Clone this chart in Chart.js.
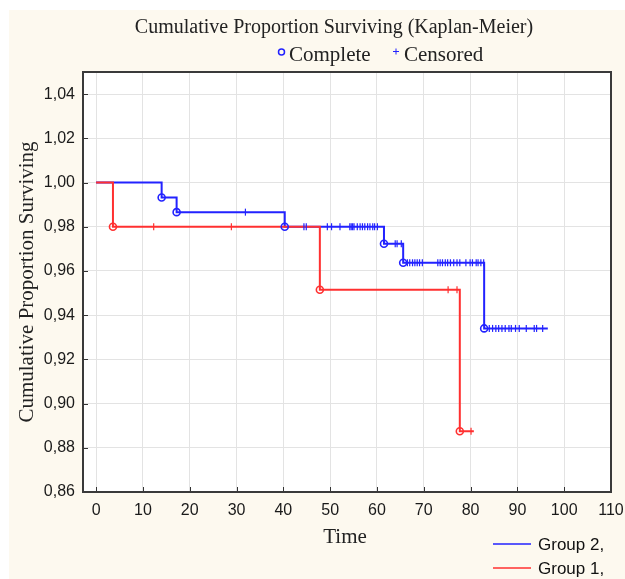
<!DOCTYPE html>
<html>
<head>
<meta charset="utf-8">
<script src="https://cdn.jsdelivr.net/npm/chart.js@4.4.1/dist/chart.umd.min.js"></script>
<style>
html, body { margin: 0; padding: 0; background: #fff; }
canvas { display: block; }
</style>
</head>
<body>
<canvas id="km" width="625" height="579"></canvas>
<script>
// tick labels
const xTicks = [0, 10, 20, 30, 40, 50, 60, 70, 80, 90, 100, 110];
const yTicks = [0.86, 0.88, 0.90, 0.92, 0.94, 0.96, 0.98, 1.00, 1.02, 1.04];

// Group 2 (blue): event times, survival after each event, censored times
const g2Times = [14.0, 17.2, 40.3, 61.5, 65.6, 82.9];
const g2Surv = [0.9932, 0.9866, 0.9800, 0.9723, 0.9637, 0.9340];
const g2LastTime = 96.5;
const g2Censored = [31.9, 44.4, 44.9, 49.4, 50.3, 52.1, 54.2, 54.5, 54.8, 55.1,
  55.8, 56.4, 56.9, 57.4, 58.0, 58.5, 59.1, 59.5, 60.1, 63.9, 64.3, 65.2,
  66.5, 67.0, 67.6, 68.1, 68.6, 69.1, 69.7, 73.0, 73.5, 74.0, 74.6, 75.1, 75.7,
  76.4, 77.1, 77.7, 79.0, 79.9, 80.4, 81.2, 81.6, 82.2, 82.8, 84.0, 84.7, 85.4,
  86.0, 86.7, 87.4, 88.2, 88.7, 89.6, 90.4, 91.9, 93.6, 94.1, 95.4];

// Group 1 (red)
const g1Times = [3.6, 47.8, 77.7];
const g1Surv = [0.9800, 0.9515, 0.8875];
const g1LastTime = 80.7;
const g1Censored = [12.3, 28.9, 75.2, 77.1, 80.1];

const BLUE = '#2222ff';
const RED = '#ff3030';

function survAt(times, surv, t) {
  let s = 1;
  for (let i = 0; i < times.length; i++) { if (times[i] <= t) s = surv[i]; }
  return s;
}
function stepPoints(times, surv, last) {
  const pts = [{ x: 0, y: 1 }];
  times.forEach((t, i) => pts.push({ x: t, y: surv[i] }));
  pts.push({ x: last, y: surv[surv.length - 1] });
  return pts;
}
function eventPoints(times, surv) {
  return times.map((t, i) => ({ x: t, y: surv[i] }));
}
function censPoints(times, surv, cens) {
  return cens.map(t => ({ x: t, y: survAt(times, surv, t) }));
}

const circleStyle = c => ({ showLine: false, pointStyle: 'circle', pointRadius: 3.5,
  pointBackgroundColor: 'rgba(0,0,0,0)', pointBorderColor: c, pointBorderWidth: 1.6 });
const censStyle = c => ({ showLine: false, pointStyle: 'line', pointRotation: 90, pointRadius: 3.5,
  pointBorderColor: c, pointBorderWidth: 1.2 });

const frame = {
  id: 'frame',
  beforeDraw(chart) {
    const { ctx, chartArea: a } = chart;
    ctx.save();
    ctx.fillStyle = '#ffffff';
    ctx.fillRect(0, 0, chart.width, chart.height);
    ctx.fillStyle = '#fdf9ef';
    ctx.fillRect(9, 10, chart.width - 9, chart.height - 10);
    ctx.fillStyle = '#ffffff';
    ctx.fillRect(a.left, a.top, a.right - a.left, a.bottom - a.top);
    ctx.restore();
  },
  afterDraw(chart) {
    const { ctx, chartArea: a, scales } = chart;
    ctx.save();
    // inner tick marks
    ctx.strokeStyle = '#333';
    ctx.lineWidth = 1;
    ctx.beginPath();
    xTicks.forEach(v => {
      const x = Math.round(scales.x.getPixelForValue(v)) + 0.5;
      ctx.moveTo(x, a.bottom); ctx.lineTo(x, a.bottom - 5);
    });
    yTicks.forEach(v => {
      const y = Math.round(scales.y.getPixelForValue(v)) + 0.5;
      ctx.moveTo(a.left, y); ctx.lineTo(a.left + 5, y);
    });
    ctx.stroke();
    // frame
    ctx.strokeStyle = '#3a3a3a';
    ctx.lineWidth = 2;
    ctx.strokeRect(a.left, a.top, a.right - a.left, a.bottom - a.top);

    ctx.fillStyle = '#222';
    ctx.textBaseline = 'middle';
    ctx.textAlign = 'center';
    ctx.font = '20px "Liberation Serif"';
    ctx.fillText('Cumulative Proportion Surviving (Kaplan-Meier)', 334, 28);
    ctx.font = '21px "Liberation Serif"';
    ctx.fillText('Time', 345, 537);

    // top legend
    ctx.textAlign = 'left';
    ctx.fillText('Complete', 289, 55);
    ctx.fillText('Censored', 404, 55);
    ctx.strokeStyle = BLUE;
    ctx.lineWidth = 1.5;
    ctx.beginPath();
    ctx.arc(281.5, 52, 3, 0, Math.PI * 2);
    ctx.stroke();
    ctx.lineWidth = 1;
    ctx.beginPath();
    ctx.moveTo(393, 51.5); ctx.lineTo(399, 51.5);
    ctx.moveTo(396, 48.5); ctx.lineTo(396, 54.5);
    ctx.stroke();

    // y axis title
    ctx.save();
    ctx.translate(27, (a.top + a.bottom) / 2);
    ctx.rotate(-Math.PI / 2);
    ctx.textAlign = 'center';
    ctx.fillText('Cumulative Proportion Surviving', 0, 0);
    ctx.restore();

    // group legend
    ctx.font = '17px "Liberation Sans"';
    [['Group 2,', BLUE, 544], ['Group 1,', RED, 568]].forEach(([label, col, y]) => {
      ctx.strokeStyle = col;
      ctx.lineWidth = 1.5;
      ctx.beginPath();
      ctx.moveTo(493, y); ctx.lineTo(531, y);
      ctx.stroke();
      ctx.fillStyle = '#111';
      ctx.fillText(label, 538, y + 1);
    });
    ctx.restore();
  }
};

new Chart(document.getElementById('km'), {
  type: 'scatter',
  data: {
    datasets: [
      Object.assign({ data: censPoints(g2Times, g2Surv, g2Censored) }, censStyle(BLUE)),
      Object.assign({ data: eventPoints(g2Times, g2Surv) }, circleStyle(BLUE)),
      Object.assign({ data: censPoints(g1Times, g1Surv, g1Censored) }, censStyle(RED)),
      Object.assign({ data: eventPoints(g1Times, g1Surv) }, circleStyle(RED)),
      { data: stepPoints(g1Times, g1Surv, g1LastTime), showLine: true, stepped: 'before',
        borderColor: RED, borderWidth: 2, pointRadius: 0 },
      { data: stepPoints(g2Times, g2Surv, g2LastTime), showLine: true, stepped: 'before',
        borderColor: BLUE, borderWidth: 2, pointRadius: 0 }
    ]
  },
  options: {
    responsive: false,
    animation: false,
    devicePixelRatio: 1,
    layout: { padding: { top: 72, right: 14, left: 0, bottom: 0 } },
    plugins: { legend: { display: false }, tooltip: { enabled: false } },
    scales: {
      x: {
        type: 'linear', min: -2.8, max: 110,
        afterBuildTicks: s => { s.ticks = xTicks.map(v => ({ value: v })); },
        afterFit: s => { s.height = 87; s.paddingLeft = 0; s.paddingRight = 0; },
        grid: { color: '#e3e3e3', drawTicks: false },
        border: { display: false },
        ticks: { padding: 9, color: '#1a1a1a', maxRotation: 0, autoSkip: false,
          font: { family: 'Liberation Sans', size: 16 } }
      },
      y: {
        type: 'linear', min: 0.86, max: 1.05,
        afterBuildTicks: s => { s.ticks = yTicks.map(v => ({ value: v })); },
        afterFit: s => { s.width = 83; s.paddingTop = 0; s.paddingBottom = 0; },
        grid: { color: '#e3e3e3', drawTicks: false },
        border: { display: false },
        ticks: { padding: 8, color: '#1a1a1a', autoSkip: false,
          font: { family: 'Liberation Sans', size: 16 },
          callback: v => v.toFixed(2).replace('.', ',') }
      }
    }
  },
  plugins: [frame]
});
</script>
</body>
</html>
